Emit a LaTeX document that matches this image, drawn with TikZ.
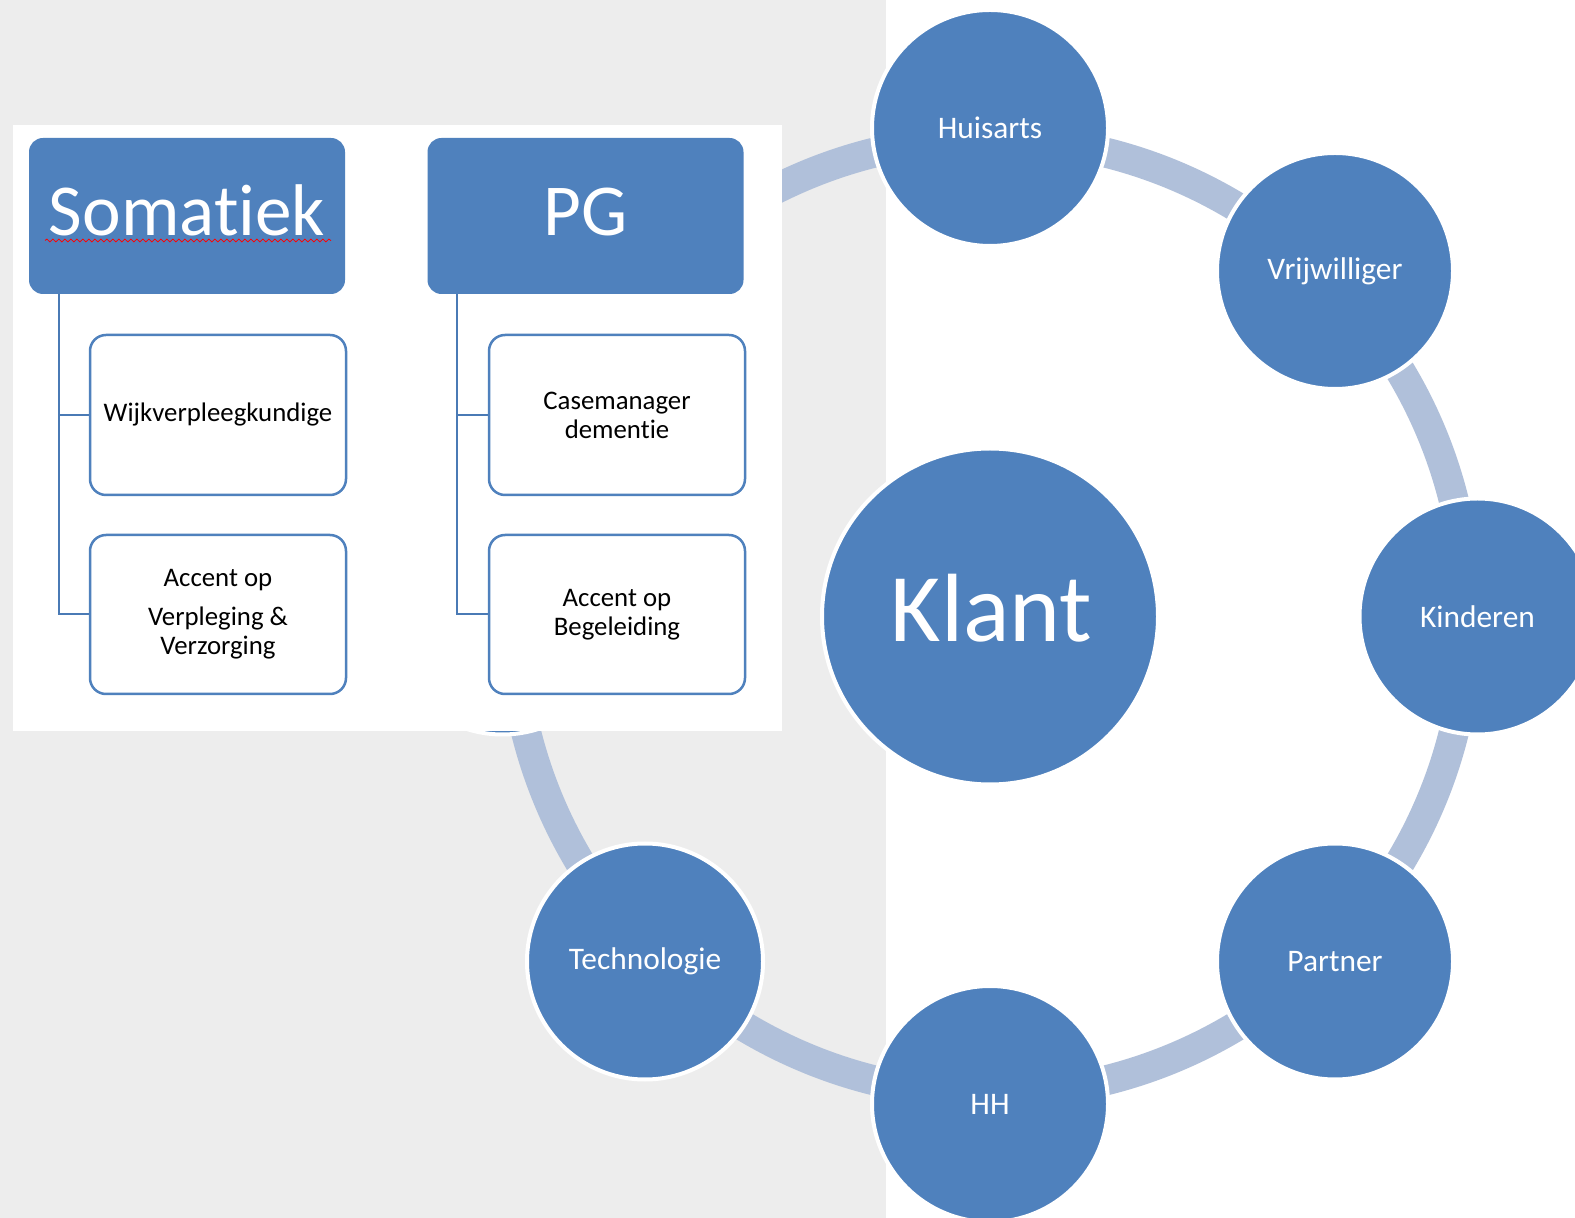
\documentclass[tikz,border=0pt]{standalone}
\usepackage{fontspec}
\setmainfont{Carlito}[Ligatures=NoCommon]
\usetikzlibrary{decorations.pathmorphing}
\definecolor{accent}{HTML}{4F81BD}
\definecolor{bandc}{HTML}{B0C0DA}
\definecolor{graybg}{HTML}{EDEDED}
\definecolor{connc}{HTML}{4A7AB5}
\begin{document}
\begin{tikzpicture}[x=0.5pt,y=-0.5pt,
 ringnode/.style={circle, fill=accent, draw=white, line width=2pt, inner sep=0pt, minimum size=118pt, text=white, font=\fontsize{15.7}{18}\selectfont},
 hubnode/.style={ringnode, minimum size=168pt},
 band/.style={draw=bandc, line width=15pt},
 headbox/.style={rectangle, rounded corners=7pt, fill=accent, minimum width=158pt, minimum height=78pt, inner sep=0pt},
 headtext/.style={text=white, font=\fontsize{36.6}{44}\selectfont, inner sep=0pt, anchor=base},
 hubtext/.style={text=white, font=\fontsize{48.5}{58}\selectfont, inner sep=0pt, anchor=base},
 childbox/.style={rectangle, rounded corners=8pt, draw=accent, line width=1.25pt, fill=white, minimum width=128pt, inner sep=0pt, align=center, font=\fontsize{13.4}{14.5}\selectfont},
 conn/.style={draw=connc, line width=1pt}
]
\useasboundingbox (0,0) rectangle (1575,1218);
\begin{scope}
\clip (0,0) rectangle (1575,1218);
\fill[white] (0,0) rectangle (1575,1218);
\fill[graybg] (0,0) rectangle (886,1218);

% ring band
\draw[band] (990,616.5) circle[radius=478];

% ring circles
\node[ringnode] (hu) at (990,128) {Huisarts};
\node[ringnode] (vr) at (1335,271) {Vrijwilliger};
\node[ringnode] (ki) at (1477.5,616.5) {Kinderen};
\node[ringnode] (pa) at (1335,961.5) {Partner};
\node[ringnode] (hh) at (990,1104) {HH};
\node[ringnode] (te) at (645,961.5) {Technologie};
\node[ringnode] (hid) at (502.5,616.5) {};
\node[hubnode] (kl) at (990,616.5) {};
\node[hubtext] (klt) at (991.5,642) {Klant};

% white panel
\fill[white] (13,125) rectangle (782,731);

% head boxes
\node[headbox] (som) at (187,216) {};
\node[headtext] (somt) at (187,236) {Somatiek};
\draw[red, line width=0.4pt, decorate, decoration={snake, amplitude=0.7pt, segment length=3pt}] (45,240.5) -- (331,240.5);
\node[headbox] (pg) at (585.5,216) {};
\node[headtext] (pgt) at (585.5,236) {PG};

% child boxes
\node[childbox, minimum height=80pt] (w1) at (218,415) {Wijkverpleegkundige};
\node[childbox, minimum height=79.5pt] (a1) at (218,614.5) {Accent op\\[5pt]Verpleging \&\\Verzorging};
\node[childbox, minimum height=80pt] (c2) at (617,415) {Casemanager\\dementie};
\node[childbox, minimum height=79.5pt] (a2) at (617,614.5) {Accent op\\Begeleiding};

% connectors
\draw[conn] ([xshift=15pt]som.south west) |- (w1.west);
\draw[conn] ([xshift=15pt]som.south west) |- (a1.west);
\draw[conn] ([xshift=15pt]pg.south west) |- (c2.west);
\draw[conn] ([xshift=15pt]pg.south west) |- (a2.west);
\end{scope}
\end{tikzpicture}
\end{document}
